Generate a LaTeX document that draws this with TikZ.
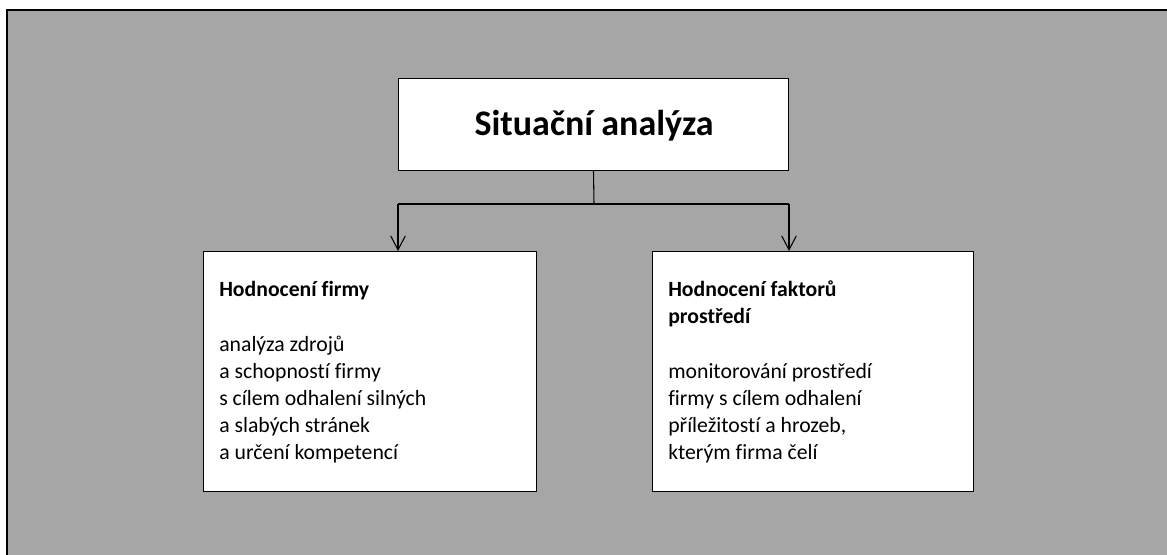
\documentclass[tikz,border=0pt]{standalone}
\usepackage{fontspec}
\setmainfont{Carlito}[Ligatures=NoCommon]
\usetikzlibrary{arrows.meta,calc}
\definecolor{bggray}{HTML}{A6A6A6}
\tikzset{
  px/.style={x=0.75pt,y=-0.75pt},
  box/.style={draw=black,fill=white,line width=0.75pt,inner sep=0pt,anchor=north west},
  body/.style={inner sep=0pt,anchor=base west,font=\fontsize{16.3}{20.25}\selectfont},
  head/.style={body,font=\fontsize{16.3}{20.25}\selectfont\bfseries},
  conn/.style={line width=0.8pt,draw=black},
  bar/.style={line width=1.5pt,draw=black},
  arr/.style={conn,-{Straight Barb[length=10.5pt,width=11pt,line width=0.8pt]}}
}
\begin{document}
\begin{tikzpicture}[px]
\useasboundingbox (0,0) rectangle (1167,555);
\fill[bggray] (7,10) rectangle (1167,555);
\draw[line width=0.9pt] (7,555) -- (7,10) -- (1167,10);
% top box
\node[box,minimum width=292.5pt,minimum height=69pt] (top) at (398,78) {};
\node[inner sep=0pt,anchor=base,font=\fontsize{27}{32}\selectfont\bfseries] (title) at (594,136) {Situační analýza};
% child boxes
\node[box,minimum width=249.75pt,minimum height=180pt] (left) at (203,251) {};
\node[box,minimum width=240.75pt,minimum height=180pt] (right) at (652,251) {};
% left box text
\node[head] (lh) at (219,297) {Hodnocení firmy};
\node[body] (l1) at (219,352) {analýza zdrojů};
\node[body] (l2) at (219,379) {a schopností firmy};
\node[body] (l3) at (219,406) {s cílem odhalení silných};
\node[body] (l4) at (219,433) {a slabých stránek};
\node[body] (l5) at (219,460) {a určení kompetencí};
% right box text
\node[head] (rh1) at (668,297) {Hodnocení faktorů};
\node[head] (rh2) at (668,324) {prostředí};
\node[body] (r1) at (668,379) {monitorování prostředí};
\node[body] (r2) at (668,406) {firmy s cílem odhalení};
\node[body] (r3) at (668,433) {příležitostí a hrozeb,};
\node[body] (r4) at (668,460) {kterým firma čelí};
% connectors
\coordinate (j) at (594,204);
\coordinate (jl) at (398,204);
\coordinate (jr) at (789,204);
\draw[conn] (top.south) -- (j);
\draw[bar] (jl) -- (jr);
\draw[arr] (jl) -- (jl |- left.north);
\draw[arr] (jr) -- (jr |- right.north);
\end{tikzpicture}
\end{document}
